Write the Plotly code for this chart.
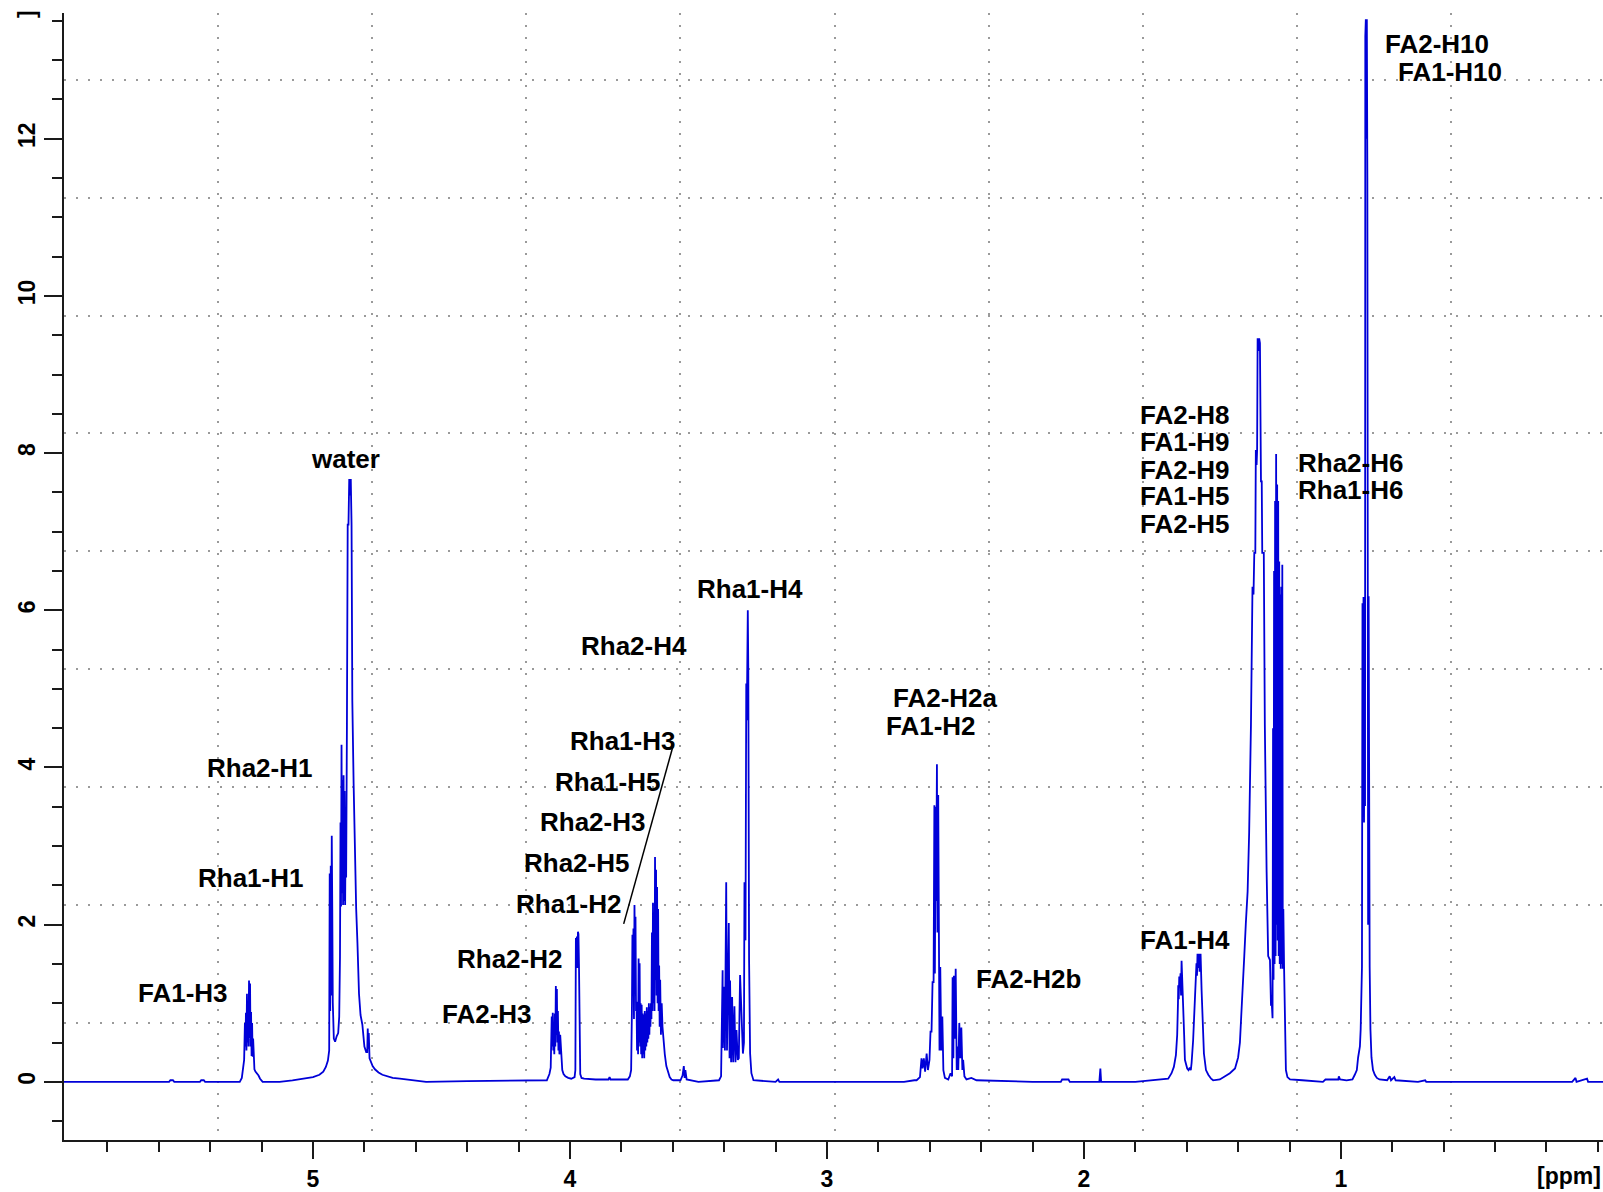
import plotly.graph_objects as go

# ---------------- spectrum data: (chemical shift [ppm], intensity) ----------------
base_left = [(6.00, 0.0), (5.56, 0.0), (5.555, 0.02), (5.545, 0.02), (5.54, 0.0), (5.44, 0.0),
             (5.435, 0.02), (5.425, 0.02), (5.42, 0.0), (5.30, 0.0)]
fa1_h3 = [(5.285, 0.0), (5.277, 0.05), (5.271, 0.19), (5.268, 0.28), (5.265, 0.75), (5.263, 0.45),
          (5.261, 0.88), (5.259, 0.40), (5.257, 1.12), (5.255, 0.50), (5.253, 1.00), (5.251, 0.45),
          (5.249, 1.29), (5.247, 0.55), (5.245, 1.25), (5.243, 0.45), (5.241, 0.89), (5.239, 0.33),
          (5.237, 0.75), (5.235, 0.32), (5.233, 0.55), (5.231, 0.25), (5.228, 0.16), (5.224, 0.13),
          (5.219, 0.11), (5.212, 0.08), (5.206, 0.04), (5.196, 0.0), (5.17, 0.0)]
water_h1 = [(5.13, 0.0), (5.08, 0.02), (5.04, 0.04), (5.00, 0.06), (4.975, 0.09), (4.96, 0.13),
            (4.95, 0.19), (4.942, 0.27), (4.937, 0.40), (4.935, 2.65), (4.933, 0.90), (4.931, 2.75),
            (4.929, 1.10), (4.927, 3.13), (4.925, 2.20), (4.923, 1.01), (4.919, 0.55), (4.914, 0.51),
            (4.908, 0.58), (4.902, 0.62), (4.898, 0.83), (4.895, 1.59), (4.893, 3.30), (4.891, 2.23),
            (4.889, 4.29), (4.887, 2.40), (4.885, 3.84), (4.883, 2.25), (4.881, 3.90), (4.879, 2.30),
            (4.877, 3.70), (4.875, 2.25), (4.873, 3.20), (4.871, 2.60), (4.868, 4.56), (4.865, 7.09),
            (4.862, 7.09), (4.859, 7.67), (4.856, 7.46), (4.853, 7.67), (4.850, 7.09), (4.847, 4.85),
            (4.842, 3.80), (4.837, 2.87), (4.832, 2.20), (4.827, 1.76), (4.821, 1.12), (4.815, 0.85),
            (4.808, 0.73), (4.800, 0.45), (4.793, 0.38), (4.789, 0.38), (4.787, 0.68), (4.785, 0.42),
            (4.783, 0.62), (4.780, 0.30), (4.775, 0.25), (4.768, 0.20), (4.759, 0.16), (4.745, 0.12),
            (4.730, 0.09), (4.714, 0.07), (4.69, 0.05), (4.662, 0.04), (4.63, 0.03), (4.60, 0.02),
            (4.56, 0.0), (4.40, 0.01), (4.20, 0.02)]
fa2_h3 = [(4.090, 0.02), (4.080, 0.10), (4.075, 0.18), (4.071, 0.83), (4.069, 0.45), (4.067, 0.88),
          (4.065, 0.40), (4.063, 0.64), (4.061, 0.35), (4.059, 0.87), (4.057, 0.45), (4.055, 1.22),
          (4.053, 0.60), (4.051, 1.18), (4.049, 0.50), (4.047, 0.90), (4.045, 0.40), (4.043, 0.64),
          (4.041, 0.35), (4.038, 0.60), (4.034, 0.28), (4.030, 0.15), (4.025, 0.10), (4.018, 0.07),
          (4.007, 0.05)]
rha2_h2 = [(3.995, 0.04), (3.982, 0.06), (3.979, 0.15), (3.977, 1.83), (3.975, 1.75), (3.973, 1.85),
           (3.971, 1.45), (3.969, 1.91), (3.967, 1.88), (3.965, 1.50), (3.963, 0.28), (3.960, 0.10),
           (3.955, 0.05), (3.945, 0.04), (3.90, 0.03), (3.850, 0.03), (3.846, 0.06), (3.842, 0.03),
           (3.80, 0.03)]
rha_h3_h5_h2 = [(3.775, 0.03), (3.767, 0.07), (3.762, 0.15), (3.759, 0.90), (3.757, 1.87), (3.755, 1.20),
                (3.753, 1.95), (3.751, 0.80), (3.749, 2.25), (3.747, 1.60), (3.745, 2.10), (3.743, 0.90),
                (3.741, 1.02), (3.739, 0.40), (3.737, 1.02), (3.735, 0.35), (3.733, 1.57), (3.731, 0.50),
                (3.729, 1.51), (3.727, 0.45), (3.725, 1.00), (3.723, 0.35), (3.721, 0.98), (3.719, 0.30),
                (3.717, 0.87), (3.715, 0.35), (3.713, 0.85), (3.711, 0.30), (3.709, 0.90), (3.707, 0.40),
                (3.705, 0.87), (3.703, 0.45), (3.701, 0.95), (3.699, 0.50), (3.697, 0.90), (3.695, 0.55),
                (3.693, 1.00), (3.691, 0.60), (3.689, 0.95), (3.687, 0.70), (3.685, 1.00), (3.683, 0.80),
                (3.681, 1.90), (3.679, 0.90), (3.677, 2.28), (3.675, 1.00), (3.673, 1.60), (3.671, 0.90),
                (3.669, 2.86), (3.667, 1.30), (3.665, 2.70), (3.663, 1.10), (3.661, 2.48), (3.659, 1.00),
                (3.657, 2.20), (3.655, 0.90), (3.653, 1.48), (3.651, 0.70), (3.649, 1.30), (3.646, 0.60),
                (3.643, 1.00), (3.640, 0.70), (3.636, 0.51), (3.631, 0.35), (3.625, 0.20), (3.618, 0.11),
                (3.612, 0.06), (3.605, 0.03), (3.598, 0.02), (3.570, 0.02), (3.562, 0.08), (3.557, 0.20),
                (3.554, 0.05), (3.551, 0.15), (3.546, 0.03), (3.50, 0.0)]
rha_h4 = [(3.420, 0.02), (3.412, 0.07), (3.406, 1.42), (3.405, 0.43), (3.401, 1.21), (3.397, 0.40),
          (3.392, 2.54), (3.389, 0.40), (3.386, 1.51), (3.382, 2.02), (3.379, 0.30), (3.377, 1.29),
          (3.373, 0.25), (3.369, 1.08), (3.365, 0.25), (3.360, 0.96), (3.356, 0.25), (3.352, 0.66),
          (3.347, 0.28), (3.343, 0.30), (3.338, 1.36), (3.334, 0.90), (3.327, 0.36), (3.323, 0.50),
          (3.321, 2.54), (3.317, 1.80), (3.314, 5.07), (3.312, 4.60), (3.308, 6.00), (3.306, 5.24),
          (3.303, 1.55), (3.299, 0.36), (3.294, 0.11), (3.286, 0.02), (3.20, 0.0), (3.19, 0.03),
          (3.185, 0.0), (2.70, 0.0), (2.66, 0.02)]
fa2_h2 = [(2.651, 0.02), (2.638, 0.06), (2.632, 0.30), (2.628, 0.17), (2.623, 0.30), (2.618, 0.13),
          (2.612, 0.36), (2.607, 0.15), (2.601, 0.28), (2.597, 0.64), (2.593, 0.64), (2.589, 1.27),
          (2.585, 1.27), (2.582, 3.52), (2.580, 1.38), (2.577, 3.50), (2.575, 2.30), (2.572, 4.04),
          (2.570, 1.90), (2.567, 3.65), (2.564, 1.46), (2.562, 0.40), (2.559, 1.46), (2.555, 0.40),
          (2.551, 0.83), (2.547, 0.15), (2.541, 0.05), (2.528, 0.03), (2.519, 0.11), (2.513, 0.07),
          (2.511, 1.33), (2.508, 0.30), (2.506, 1.35), (2.503, 0.55), (2.499, 1.44), (2.495, 0.15),
          (2.493, 0.45), (2.489, 0.15), (2.485, 0.75), (2.481, 0.30), (2.477, 0.69), (2.473, 0.15),
          (2.470, 0.28), (2.465, 0.07), (2.457, 0.03), (2.438, 0.05), (2.418, 0.02), (2.20, 0.0),
          (2.09, 0.0), (2.085, 0.03), (2.06, 0.03), (2.055, 0.0), (1.94, 0.0), (1.936, 0.17),
          (1.933, 0.0), (1.80, 0.0)]
fa1_h4 = [(1.743, 0.02), (1.704, 0.03), (1.672, 0.04), (1.659, 0.11), (1.650, 0.19), (1.642, 0.34),
          (1.637, 0.60), (1.634, 1.00), (1.633, 1.23), (1.631, 1.05), (1.629, 1.34), (1.627, 1.20),
          (1.624, 1.38), (1.622, 1.10), (1.620, 1.54), (1.617, 1.30), (1.614, 1.12), (1.610, 0.60),
          (1.607, 0.28), (1.602, 0.20), (1.598, 0.17), (1.593, 0.15), (1.588, 0.18), (1.584, 0.15),
          (1.581, 0.24), (1.575, 0.53), (1.568, 1.04), (1.565, 1.30), (1.562, 1.51), (1.560, 1.35),
          (1.558, 1.63), (1.555, 1.45), (1.552, 1.63), (1.550, 1.40), (1.546, 1.63), (1.542, 1.16),
          (1.538, 0.83), (1.533, 0.36), (1.525, 0.15), (1.516, 0.09), (1.505, 0.04), (1.497, 0.02),
          (1.471, 0.03), (1.458, 0.06), (1.432, 0.11), (1.412, 0.17), (1.400, 0.31)]
fa_h8_h9_h5 = [(1.393, 0.50), (1.388, 0.78), (1.383, 1.19), (1.376, 1.60), (1.370, 2.01), (1.363, 2.42),
               (1.357, 3.17), (1.350, 4.54), (1.344, 6.30), (1.340, 6.20), (1.337, 6.73), (1.333, 6.73),
               (1.331, 8.04), (1.328, 7.85), (1.326, 8.04), (1.324, 9.46), (1.321, 9.30), (1.318, 9.46),
               (1.315, 9.40), (1.313, 8.60), (1.311, 7.64), (1.308, 7.64), (1.306, 6.73), (1.300, 6.73),
               (1.296, 4.54), (1.289, 2.67), (1.283, 1.60), (1.276, 1.55), (1.272, 0.97)]
rha_h6 = [(1.269, 1.00), (1.266, 0.81), (1.264, 4.50), (1.262, 1.30), (1.260, 6.50), (1.258, 1.50),
          (1.256, 7.39), (1.254, 1.60), (1.252, 7.99), (1.250, 2.00), (1.248, 7.60), (1.246, 1.80),
          (1.244, 7.39), (1.242, 1.60), (1.240, 6.62), (1.238, 1.50), (1.236, 6.20), (1.234, 1.44),
          (1.232, 6.30), (1.230, 1.50), (1.228, 6.58), (1.226, 1.44), (1.224, 2.20), (1.221, 1.44),
          (1.218, 0.50), (1.214, 0.15), (1.208, 0.06), (1.198, 0.03), (1.15, 0.02), (1.07, 0.0),
          (1.06, 0.03), (1.01, 0.03), (1.008, 0.07), (1.003, 0.03)]
fa_h10 = [(0.978, 0.02), (0.955, 0.03), (0.946, 0.09), (0.938, 0.15), (0.933, 0.31), (0.926, 0.45),
          (0.923, 0.67), (0.920, 1.11), (0.918, 1.46), (0.916, 6.09), (0.914, 3.51), (0.912, 6.17),
          (0.910, 3.30), (0.908, 5.00), (0.906, 3.51), (0.905, 13.30), (0.903, 13.52), (0.901, 12.0),
          (0.899, 13.52), (0.897, 11.5), (0.896, 6.18), (0.894, 2.00), (0.892, 6.18), (0.890, 2.00),
          (0.888, 1.46), (0.885, 0.67), (0.881, 0.31), (0.875, 0.15), (0.868, 0.09), (0.86, 0.05),
          (0.85, 0.03)]
base_right = [(0.82, 0.02), (0.81, 0.07), (0.805, 0.02), (0.792, 0.06), (0.787, 0.02), (0.70, 0.0),
              (0.672, 0.02), (0.668, 0.0), (0.10, 0.0), (0.087, 0.05), (0.083, 0.0), (0.042, 0.04),
              (0.038, 0.0), (-0.03, 0.0)]

segments = [base_left, fa1_h3, water_h1, fa2_h3, rha2_h2, rha_h3_h5_h2, rha_h4, fa2_h2,
            fa1_h4, fa_h8_h9_h5, rha_h6, fa_h10, base_right]

# axis ticks
x_ticks = [5, 4, 3, 2, 1]
y_ticks = [0, 2, 4, 6, 8, 10, 12]

# peak labels: (text, ppm of left edge / centre, intensity of text centre, anchor)
peak_labels = [
    ("FA2-H10", 0.836, 13.21, "left"), ("FA1-H10", 0.784, 12.85, "left"),
    ("FA2-H8", 1.791, 8.49, "left"), ("FA1-H9", 1.791, 8.14, "left"),
    ("FA2-H9", 1.791, 7.79, "left"), ("FA1-H5", 1.791, 7.45, "left"),
    ("FA2-H5", 1.791, 7.10, "left"),
    ("Rha2-H6", 1.174, 7.88, "left"), ("Rha1-H6", 1.174, 7.53, "left"),
    ("water", 4.875, 7.92, "center"),
    ("Rha1-H4", 3.513, 6.27, "left"), ("Rha2-H4", 3.963, 5.54, "left"),
    ("FA2-H2a", 2.749, 4.88, "left"), ("FA1-H2", 2.777, 4.53, "left"),
    ("Rha1-H3", 4.006, 4.34, "left"), ("Rha1-H5", 4.066, 3.82, "left"),
    ("Rha2-H3", 4.126, 3.30, "left"), ("Rha2-H5", 4.185, 2.78, "left"),
    ("Rha1-H2", 4.217, 2.26, "left"),
    ("Rha2-H1", 5.422, 3.99, "left"), ("Rha1-H1", 5.454, 2.60, "left"),
    ("FA1-H3", 5.689, 1.13, "left"), ("Rha2-H2", 4.448, 1.56, "left"),
    ("FA2-H3", 4.507, 0.86, "left"), ("FA2-H2b", 2.427, 1.31, "left"),
    ("FA1-H4", 1.791, 1.81, "left"),
]
# leader line from the Rha1-H3 ... Rha1-H2 label stack to the multiplet
leader_ppm = [3.600, 3.791]
leader_int = [4.26, 2.01]

# ---------------- figure ----------------
ppm = [p for seg in segments for p, _ in seg]
inten = [v for seg in segments for _, v in seg]

FONT = "Liberation Sans, Arial, sans-serif"
AXC = "#1a1a1a"

fig = go.Figure()
fig.add_trace(go.Scatter(x=ppm, y=inten, mode="lines",
                         line=dict(color="#0000d8", width=1.8),
                         hoverinfo="skip", showlegend=False))
# dummy trace for the offset dotted grid axes
fig.add_trace(go.Scatter(x=[None], y=[None], xaxis="x2", yaxis="y2",
                         showlegend=False, hoverinfo="skip"))

x_range = [5.969, -0.02]
y_range = [-0.74, 13.6]

fig.update_layout(
    width=1603, height=1192,
    margin=dict(l=64, r=0, t=13, b=52, autoexpand=False),
    plot_bgcolor="white", paper_bgcolor="white",
    showlegend=False,
    xaxis=dict(range=x_range, tickmode="array", tickvals=x_ticks,
               ticktext=[str(v) for v in x_ticks],
               ticks="outside", ticklen=17, tickwidth=2, tickcolor=AXC,
               showline=True, linewidth=2, linecolor=AXC, mirror=False,
               showgrid=False, zeroline=False, automargin=False,
               tickfont=dict(family=FONT, size=23, color="black", weight="bold"),
               minor=dict(tickmode="linear", tick0=0, dtick=0.2, ticks="outside",
                          ticklen=10, tickwidth=2, tickcolor=AXC, showgrid=False)),
    yaxis=dict(range=y_range, tickmode="array", tickvals=y_ticks,
               ticktext=[str(v) for v in y_ticks], tickangle=-90,
               ticks="outside", ticklen=18, tickwidth=2, tickcolor=AXC,
               showline=True, linewidth=2, linecolor=AXC,
               showgrid=False, zeroline=False, automargin=False,
               tickfont=dict(family=FONT, size=23, color="black", weight="bold"),
               minor=dict(tickmode="linear", tick0=0, dtick=0.5, ticks="outside",
                          ticklen=10, tickwidth=2, tickcolor=AXC, showgrid=False)),
    xaxis2=dict(range=x_range, overlaying="x", anchor="y", tickmode="linear",
                tick0=0.57, dtick=0.6, showgrid=True, gridcolor="#9a9a9a",
                gridwidth=2, griddash="2px,10px", showticklabels=False, ticks="",
                showline=False, zeroline=False),
    yaxis2=dict(range=y_range, overlaying="y", anchor="x", tickmode="linear",
                tick0=0.75, dtick=1.5, showgrid=True, gridcolor="#9a9a9a",
                gridwidth=2, griddash="2px,10px", showticklabels=False, ticks="",
                showline=False, zeroline=False),
)

annotations = []
for text, xp, yv, anchor in peak_labels:
    annotations.append(dict(x=xp, y=yv, xref="x", yref="y", text=text, showarrow=False,
                            xanchor=anchor, yanchor="middle",
                            font=dict(family=FONT, size=26, color="black", weight="bold")))
annotations.append(dict(x=1.0, y=0, xref="paper", yref="paper", text="[ppm]", showarrow=False,
                        xanchor="right", yanchor="middle", yshift=-36,
                        font=dict(family=FONT, size=23, color="black", weight="bold")))
annotations.append(dict(x=-0.0237, y=0.9987, xref="paper", yref="paper", text="]", showarrow=False,
                        textangle=-90, xanchor="center", yanchor="middle",
                        font=dict(family=FONT, size=23, color="black", weight="bold")))
fig.update_layout(annotations=annotations)

fig.add_shape(type="line", xref="x", yref="y",
              x0=leader_ppm[0], y0=leader_int[0], x1=leader_ppm[1], y1=leader_int[1],
              line=dict(color="black", width=1.5))

fig.write_html("out.html", config={"displayModeBar": False},
               post_script="document.body.style.margin='0px';document.body.style.overflow='hidden';")
